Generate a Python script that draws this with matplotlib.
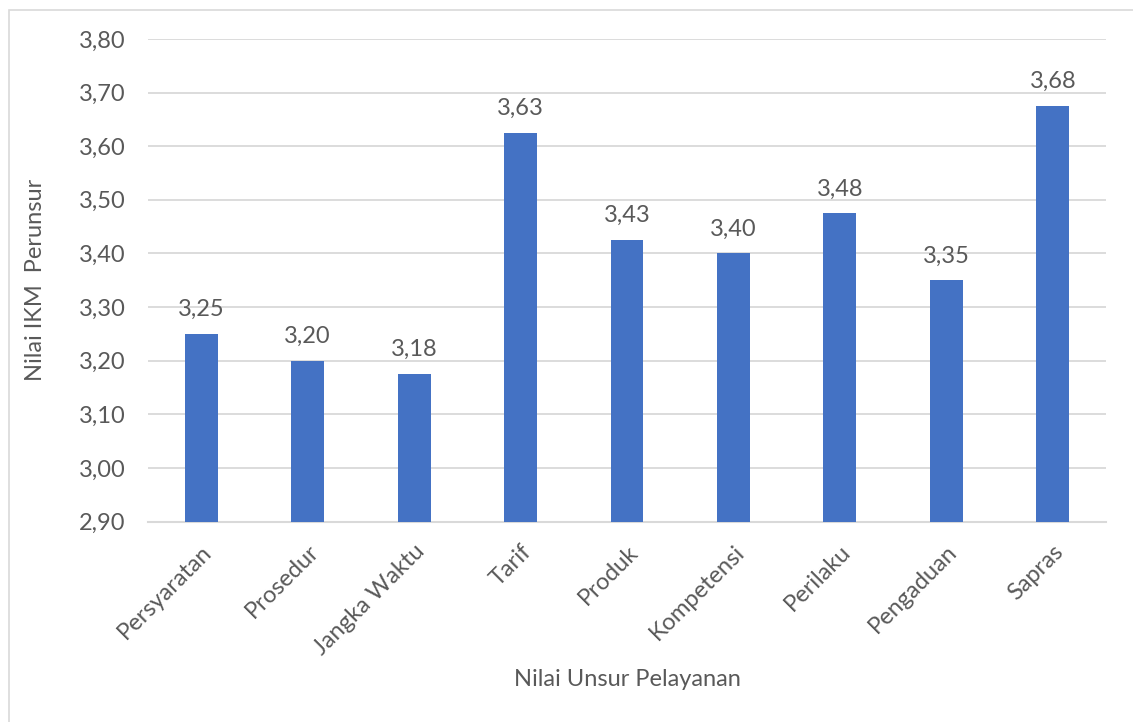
import matplotlib.pyplot as plt
from matplotlib.patches import Rectangle
from decimal import Decimal, ROUND_HALF_UP

plt.rcParams['font.family'] = ['Lato', 'DejaVu Sans']

categories = ["Persyaratan", "Prosedur", "Jangka Waktu", "Tarif", "Produk",
              "Kompetensi", "Perilaku", "Pengaduan", "Sapras"]
values = [3.25, 3.20, 3.175, 3.625, 3.425, 3.40, 3.475, 3.35, 3.675]
yticks = [2.90, 3.00, 3.10, 3.20, 3.30, 3.40, 3.50, 3.60, 3.70, 3.80]

text_col = "#595959"
bar_col = "#4472C4"
fs = 17


def fmt(v):
    s = str(Decimal(str(v)).quantize(Decimal("0.01"), rounding=ROUND_HALF_UP))
    return s.replace(".", ",")


fig = plt.figure(figsize=(11.33, 7.22), dpi=100)
W, H = 1133, 722

# chart frame (only left/top visible in the reference)
fig.patches.append(Rectangle((9 / W, -0.1), 1.2, (H - 10) / H + 0.1,
                             transform=fig.transFigure, fill=False,
                             edgecolor="#d9d9d9", linewidth=1.2))

ax = fig.add_axes([148 / W, 1 - 521.5 / H, (1106 - 148) / W, (521.5 - 39) / H])
x = range(len(categories))
ax.bar(x, values, width=0.31, color=bar_col, zorder=3, bottom=0)
ax.set_xlim(-0.5, len(categories) - 0.5)
ax.set_ylim(2.90, 3.80)
ax.set_yticks(yticks)
ax.set_yticklabels([fmt(t) for t in yticks])
ax.grid(axis="y", color="#d9d9d9", linewidth=1.3, zorder=0)

for s in ["top", "right", "left"]:
    ax.spines[s].set_visible(False)
ax.spines["bottom"].set_color("#d9d9d9")
ax.spines["bottom"].set_linewidth(1.5)
ax.tick_params(axis="both", length=0, labelsize=fs, colors=text_col)
ax.tick_params(axis="y", pad=16)
ax.tick_params(axis="x", pad=14)

ax.set_xticks(list(x))
ax.set_xticklabels(categories, rotation=45, ha="right", rotation_mode="anchor")

for i, v in enumerate(values):
    ax.annotate(fmt(v), (i, v), xytext=(0, 10), textcoords="offset points",
                ha="center", va="bottom", fontsize=fs, color=text_col)

fig.text(627 / W, 1 - 680 / H, "Nilai Unsur Pelayanan", ha="center",
         va="center", fontsize=fs, color=text_col)
fig.text(36 / W, 1 - 280 / H, "Nilai IKM  Perunsur", ha="center",
         va="center", rotation=90, fontsize=fs, color=text_col)

fig.savefig("out.png", dpi=100, facecolor="white")
